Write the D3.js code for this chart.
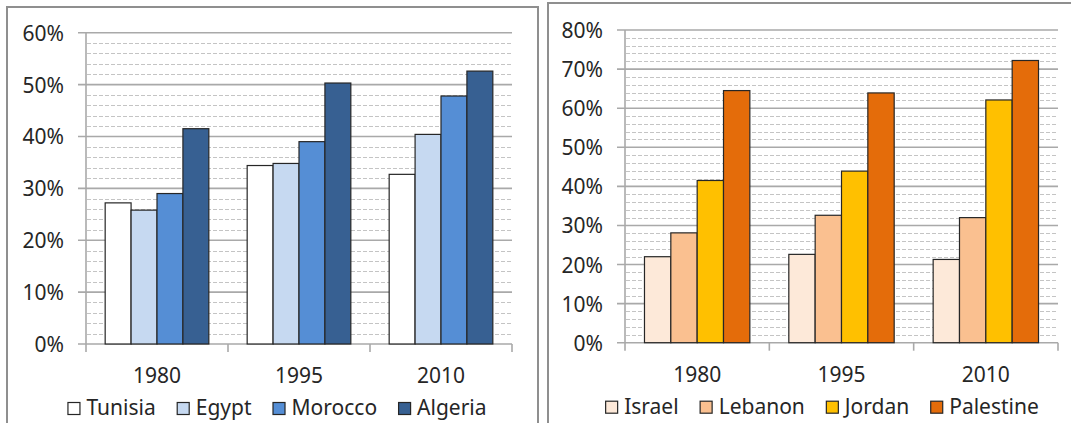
<!DOCTYPE html>
<html>
<head>
<meta charset="utf-8">
<script src="https://cdn.jsdelivr.net/npm/d3@7"></script>
<style>
  html, body { margin: 0; padding: 0; background: #fff; }
  svg { display: block; font-family: "Noto Sans", sans-serif; }
</style>
</head>
<body>
<div id="chart"></div>
<script>
// ------ DATA ------
const years = ["1980", "1995", "2010"]

const westCountries = ["Tunisia", "Egypt", "Morocco", "Algeria"]
const tunisia = [27.2, 34.4, 32.7]
const egypt   = [25.8, 34.8, 40.4]
const morocco = [29.0, 39.0, 47.8]
const algeria = [41.5, 50.3, 52.6]
const westColors = ["#ffffff", "#c6d9f1", "#558ed5", "#376092"]
const westTicks = [0, 10, 20, 30, 40, 50, 60]

const eastCountries = ["Israel", "Lebanon", "Jordan", "Palestine"]
const israel    = [22.0, 22.6, 21.3]
const lebanon   = [28.1, 32.6, 32.0]
const jordan    = [41.5, 43.9, 62.1]
const palestine = [64.5, 63.9, 72.2]
const eastColors = ["#fde9d9", "#fac090", "#ffc000", "#e46c0a"]
const eastTicks = [0, 10, 20, 30, 40, 50, 60, 70, 80]

const W = 1071, H = 423

const svg = d3.select("#chart").append("svg")
  .attr("width", W).attr("height", H)

// panel frames
svg.append("rect").attr("x", 7).attr("y", 7).attr("width", 531).attr("height", 430)
  .attr("fill", "none").attr("stroke", "#8f8f8f").attr("stroke-width", 2)
svg.append("rect").attr("x", 548).attr("y", 3).attr("width", 540).attr("height", 440)
  .attr("fill", "none").attr("stroke", "#8f8f8f").attr("stroke-width", 2)

function drawChart(opt) {
  const g = svg.append("g")
  const names = opt.names
  const rows = opt.series

  const x0 = d3.scaleBand().domain(years).range([opt.left, opt.right])
  const bw = x0.bandwidth()
  const pad = bw * 0.135
  const x1 = d3.scaleBand().domain(names).range([pad, bw - pad])
  const y = d3.scaleLinear().domain([0, opt.max]).range([opt.bottom, opt.top])

  // minor dashed gridlines every 2%
  const minor = d3.range(0, opt.max + 0.001, 2).filter(v => v % 10 !== 0)
  g.selectAll("line.minor").data(minor).join("line")
    .attr("x1", opt.left + 1).attr("x2", opt.right)
    .attr("y1", d => Math.round(y(d)) + 0.5).attr("y2", d => Math.round(y(d)) + 0.5)
    .attr("stroke", "#c4c4c4").attr("stroke-width", 1).attr("stroke-dasharray", "4,2")

  // major gridlines
  g.selectAll("line.major").data(opt.ticks).join("line")
    .attr("x1", opt.left - 8).attr("x2", opt.right)
    .attr("y1", d => y(d)).attr("y2", d => y(d))
    .attr("stroke", "#a9a9a9").attr("stroke-width", 1.6)

  // y axis line
  g.append("line").attr("x1", opt.left).attr("x2", opt.left)
    .attr("y1", opt.top).attr("y2", opt.bottom + 8)
    .attr("stroke", "#a9a9a9").attr("stroke-width", 1.6)

  // category ticks
  const bounds = years.map(d => x0(d)).slice(1).concat([opt.right])
  g.selectAll("line.xt").data(bounds).join("line")
    .attr("x1", d => d).attr("x2", d => d)
    .attr("y1", opt.bottom).attr("y2", opt.bottom + 8)
    .attr("stroke", "#a9a9a9").attr("stroke-width", 1.6)

  // y labels
  g.selectAll("text.yl").data(opt.ticks).join("text")
    .attr("x", opt.left - 22).attr("y", d => y(d))
    .attr("text-anchor", "end").attr("dominant-baseline", "central")
    .attr("font-size", 21).attr("fill", "#262626")
    .text(d => d + "%")

  // x labels
  g.selectAll("text.xl").data(years).join("text")
    .attr("x", d => x0(d) + bw / 2).attr("y", opt.bottom + 39)
    .attr("text-anchor", "middle").attr("font-size", 21).attr("fill", "#262626")
    .text(d => d)

  // bars
  names.forEach((name, i) => {
    g.selectAll("rect.s" + i).data(rows[i]).join("rect")
      .attr("x", (d, j) => x0(years[j]) + x1(name))
      .attr("y", d => y(d))
      .attr("width", x1.bandwidth())
      .attr("height", d => opt.bottom - y(d))
      .attr("fill", opt.colors[i])
      .attr("stroke", "#262626").attr("stroke-width", 1.2)
  })

  // legend
  const lg = g.append("g")
  let cx = 0
  names.forEach((name, i) => {
    lg.append("rect").attr("x", cx + 0.5).attr("y", opt.bottom + 58.5)
      .attr("width", 12).attr("height", 12)
      .attr("fill", opt.colors[i]).attr("stroke", "#262626").attr("stroke-width", 1.2)
    const t = lg.append("text").attr("x", cx + 19).attr("y", opt.bottom + 71)
      .attr("font-size", 21).attr("fill", "#262626").text(name)
    cx += 19 + t.node().getComputedTextLength() + 21
  })
  const lw = cx - 21
  lg.attr("transform", `translate(${opt.legendCenter - lw / 2},0)`)
}

drawChart({
  names: westCountries,
  series: [tunisia, egypt, morocco, algeria],
  colors: westColors,
  ticks: westTicks,
  max: 60,
  left: 86, right: 512, top: 32.7, bottom: 344,
  legendCenter: 277
})

drawChart({
  names: eastCountries,
  series: [israel, lebanon, jordan, palestine],
  colors: eastColors,
  ticks: eastTicks,
  max: 80,
  left: 625, right: 1058, top: 30, bottom: 342.7,
  legendCenter: 822
})
</script>
</body>
</html>
